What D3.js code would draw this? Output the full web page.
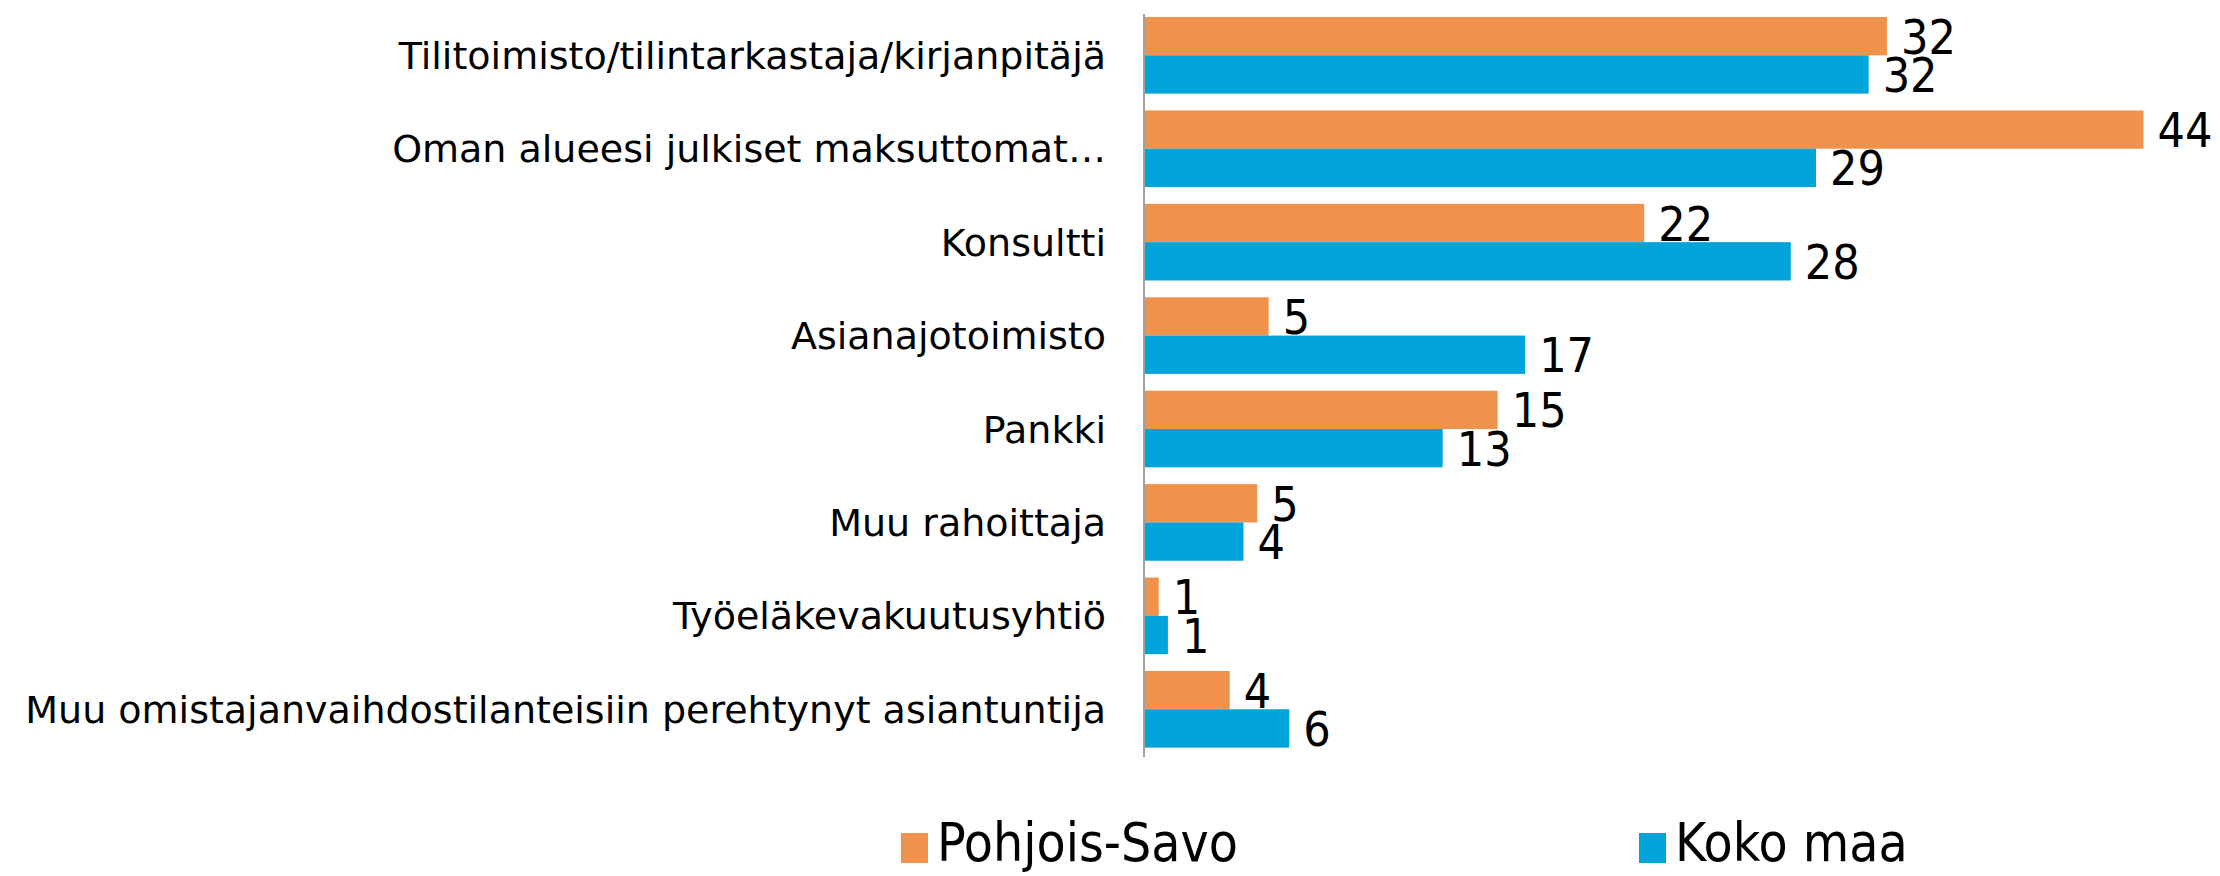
<!DOCTYPE html>
<html>
<head>
<meta charset="utf-8">
<script src="https://cdn.jsdelivr.net/npm/d3@7"></script>
<style>
    body { margin: 0; background: #fff; }
    text { font-family: "DejaVu Sans Condensed", "DejaVu Sans", sans-serif; font-stretch: condensed; fill: #000; }
    text.cat { font-family: "DejaVu Sans", sans-serif; font-stretch: normal; }
</style>
</head>
<body>
<svg id="main" width="2220" height="876"></svg>
<script>
const width = 2220;
const height = 876;

// data
const categories = [
    "Tilitoimisto/tilintarkastaja/kirjanpitäjä",
    "Oman alueesi julkiset maksuttomat…",
    "Konsultti",
    "Asianajotoimisto",
    "Pankki",
    "Muu rahoittaja",
    "Työeläkevakuutusyhtiö",
    "Muu omistajanvaihdostilanteisiin perehtynyt asiantuntija"
];
const seriesNames = ["Pohjois-Savo", "Koko maa"];
const pohjoisSavo = [32.4, 43.6, 21.8, 5.4, 15.4, 4.9, 0.6, 3.7];
const kokoMaa = [31.6, 29.3, 28.2, 16.6, 13.0, 4.3, 1.0, 6.3];
const colors = ["#F0924C", "#01A4DA"];

var svg;
var xScale;
var yScale;
var subScale;

drawVisualisation();

function drawVisualisation() {
    svg = d3.select('#main');

    svg.append('rect')
        .attr('width', width)
        .attr('height', height)
        .attr('fill', '#fff');

    const rows = categories.map((c, i) => ({ cat: c, values: [pohjoisSavo[i], kokoMaa[i]] }));

    xScale = d3.scaleLinear()
        .domain([0, 45])
        .range([1145, 1145 + 45 * 22.9]);

    yScale = d3.scaleBand()
        .domain(categories)
        .range([8.6, 756])
        .paddingInner(0.18)
        .paddingOuter(0.09);

    subScale = d3.scaleBand()
        .domain(seriesNames)
        .range([0, yScale.bandwidth()]);

    // category labels
    svg.append('g')
        .selectAll('text')
        .data(rows)
        .enter()
        .append('text')
        .attr('class', 'cat')
        .attr('x', 1106)
        .attr('y', d => yScale(d.cat) + yScale.bandwidth() / 2)
        .attr('dy', 13.5)
        .attr('text-anchor', 'end')
        .style('font-size', '38px')
        .text(d => d.cat);

    const groups = svg.append('g')
        .selectAll('g')
        .data(rows)
        .enter()
        .append('g')
        .attr('transform', d => 'translate(0,' + yScale(d.cat) + ')');

    groups.selectAll('rect')
        .data(d => d.values.map((v, i) => ({ name: seriesNames[i], value: v, i: i })))
        .enter()
        .append('rect')
        .attr('x', xScale(0))
        .attr('y', d => subScale(d.name))
        .attr('width', d => xScale(d.value) - xScale(0))
        .attr('height', subScale.bandwidth())
        .attr('fill', d => colors[d.i]);

    groups.selectAll('text')
        .data(d => d.values.map((v, i) => ({ name: seriesNames[i], value: v, i: i })))
        .enter()
        .append('text')
        .attr('x', d => xScale(d.value) + 14)
        .attr('y', d => subScale(d.name) + subScale.bandwidth() / 2)
        .attr('dy', 17.5)
        .style('font-size', '48px')
        .text(d => d3.format('.0f')(d.value));

    // vertical axis line
    svg.append('line')
        .attr('x1', 1144)
        .attr('x2', 1144)
        .attr('y1', 14)
        .attr('y2', 757)
        .attr('stroke', '#a0a0a0')
        .attr('stroke-width', 2);

    // legend
    const legendX = [901, 1639];
    const legend = svg.append('g')
        .selectAll('g')
        .data(seriesNames)
        .enter()
        .append('g')
        .attr('transform', (d, i) => 'translate(' + legendX[i] + ',833)');

    legend.append('rect')
        .attr('width', 27)
        .attr('height', 30)
        .attr('fill', (d, i) => colors[i]);

    legend.append('text')
        .attr('x', 36)
        .attr('y', 28)
        .style('font-size', '53px')
        .text(d => d);
}
</script>
</body>
</html>
